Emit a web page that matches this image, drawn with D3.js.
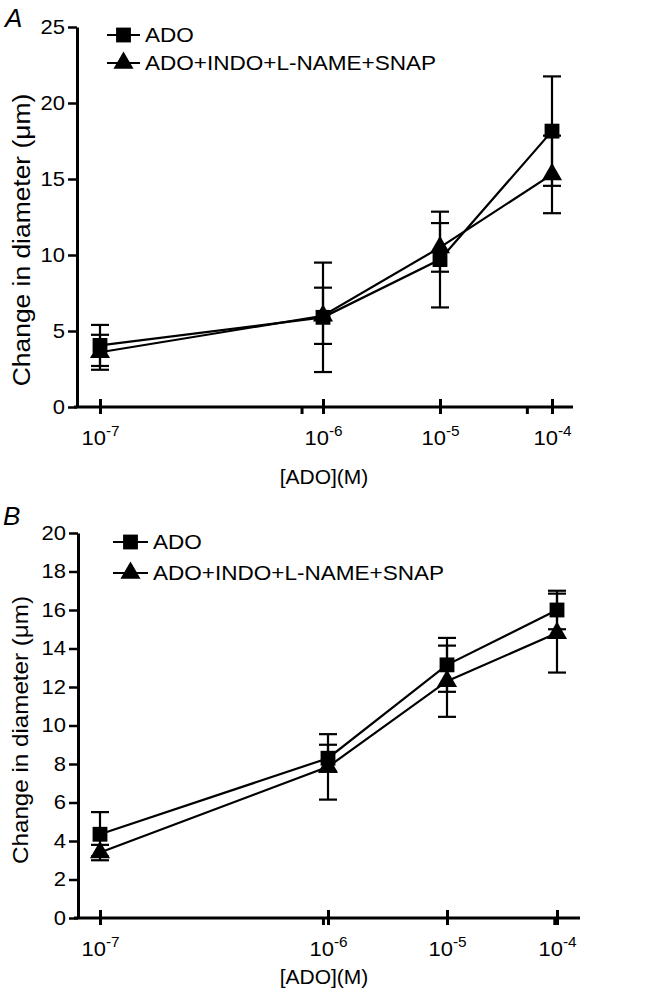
<!DOCTYPE html>
<html><head><meta charset="utf-8">
<script src="https://cdn.jsdelivr.net/npm/d3@7/dist/d3.min.js"></script>
<style>
body{margin:0;background:#fff}
svg{display:block}
text{font-family:"Liberation Sans",Arial,Helvetica,sans-serif;fill:#000}
</style>
</head><body>
<svg id="chart" width="661" height="992"></svg>
<script>
// ---------- data ----------
const concentrations = [1e-7, 1e-6, 1e-5, 1e-4];
const xTickExponents = ["-7", "-6", "-5", "-4"];
const seriesNames = ["ADO", "ADO+INDO+L-NAME+SNAP"];
const xTitle = "[ADO](M)";
const yTitle = "Change in diameter (\u03BCm)";

const yTicksA = [0, 5, 10, 15, 20, 25];
const adoA = [4.05, 5.9, 9.7, 18.15];
const adoErrA = [1.35, 3.6, 3.15, 3.6];
const comboA = [3.6, 6.0, 10.5, 15.3];
const comboErrA = [1.15, 1.85, 1.6, 2.55];
const minorTicksA = [-6.094, -4.22];

const yTicksB = [0, 2, 4, 6, 8, 10, 12, 14, 16, 18, 20];
const adoB = [4.35, 8.3, 13.15, 16.0];
const adoErrB = [1.15, 0.7, 1.4, 1.0];
const comboB = [3.4, 7.85, 12.3, 14.8];
const comboErrB = [0.4, 1.7, 1.85, 2.05];
const minorTicksB = [-6.02, -4.02];

// ---------- layout ----------
const SX = 1.1; // horizontal stretch of the lettering
const panels = [
  {letter:"A", letterX:5, letterY:27, yDomain:[0,25], yRange:[407,27], yTicks:yTicksA,
   xRange:[100,323,440,552], axisX:77, xStart:74, xEnd:573, xTitleX:324,
   series:[[adoA,adoErrA],[comboA,comboErrA]], minor:minorTicksA,
   legend:{x1:107,x2:140,tx:145,y0:35,dy:28,fs:20.5},
   yTitleX:30, yTitleY:240, yTitleFs:24, xTitleY:484, tickLabelDy:38},
  {letter:"B", letterX:3, letterY:525, yDomain:[0,20], yRange:[918,533], yTicks:yTicksB,
   xRange:[100,328,447,557], axisX:78, xStart:74, xEnd:580, xTitleX:324,
   series:[[adoB,adoErrB],[comboB,comboErrB]], minor:minorTicksB,
   legend:{x1:113,x2:148,tx:153,y0:542,dy:31,fs:20.5},
   yTitleX:28, yTitleY:730, yTitleFs:22, xTitleY:984, tickLabelDy:38}
];

const svg = d3.select("#chart");
const sym = [d3.symbol().type(d3.symbolSquare).size(220), d3.symbol().type(d3.symbolTriangle).size(175)];

function stext(g, str, x, y, fs, anchor, rot, sx) {
  return g.append("text")
    .attr("transform", `translate(${x},${y}) rotate(${rot||0}) scale(${sx||SX},1)`)
    .style("font-size", fs + "px")
    .attr("text-anchor", anchor || "start")
    .text(str);
}

panels.forEach(p => {
  const g = svg.append("g");
  const y = d3.scaleLinear().domain(p.yDomain).range(p.yRange);
  const x = d3.scaleLinear().domain([-7,-6,-5,-4]).range(p.xRange);
  const xv = c => x(Math.log10(c));

  // panel letter
  stext(g, p.letter, p.letterX, p.letterY, 26, "start", 0, 1).style("font-style","italic");

  // y axis
  const ya = g.append("g").attr("transform", `translate(${p.axisX},0)`)
    .call(d3.axisLeft(y).tickValues(p.yTicks).tickSize(9).tickSizeOuter(0).tickPadding(3));
  ya.attr("font-size", null).attr("font-family", null);
  ya.select(".domain").attr("stroke","#000").attr("stroke-width",3);
  ya.selectAll(".tick line").attr("stroke","#000").attr("stroke-width",2.5);
  ya.selectAll(".tick text").style("font-size","20px")
    .attr("x", -12/SX).attr("transform",`scale(${SX},1)`).attr("fill","#000");

  // x axis line
  const xBase = p.yRange[0];
  g.append("line").attr("x1",p.xStart).attr("x2",p.xEnd).attr("y1",xBase).attr("y2",xBase)
    .attr("stroke","#000").attr("stroke-width",3);
  const xa = g.append("g").attr("transform",`translate(0,${xBase})`)
    .call(d3.axisBottom(x).tickValues([-7,-6,-5,-4]).tickSize(0).tickFormat(""));
  xa.attr("font-size", null).attr("font-family", null);
  xa.select(".domain").remove();
  xa.selectAll(".tick text").remove();
  xa.selectAll(".tick line").attr("y1",-8).attr("y2",7).attr("stroke","#000").attr("stroke-width",3);
  xa.selectAll(".tick").each(function(d,i){
    const t = d3.select(this).append("text")
      .attr("transform",`translate(0,${p.tickLabelDy}) scale(${SX},1)`)
      .style("font-size","20px").attr("text-anchor","middle").attr("fill","#000");
    t.append("tspan").text("10");
    t.append("tspan").style("font-size","14px").attr("dy",-9).text(xTickExponents[i]);
  });
  // minor ticks
  g.selectAll(".minor").data(p.minor).join("line")
    .attr("x1",d=>x(d)).attr("x2",d=>x(d)).attr("y1",xBase).attr("y2",xBase+7)
    .attr("stroke","#000").attr("stroke-width",3);

  // axis titles
  stext(g, xTitle, p.xTitleX, p.xTitleY, 21, "middle", 0, 1.0);
  stext(g, yTitle, p.yTitleX, p.yTitleY, p.yTitleFs, "middle", -90);

  // lines
  const line = d3.line().x((d,i)=>xv(concentrations[i])).y(d=>y(d));
  p.series.forEach(([vals]) => {
    g.append("path").attr("d", line(vals)).attr("fill","none").attr("stroke","#000").attr("stroke-width",2.2);
  });
  // error bars
  p.series.forEach(([vals, errs]) => {
    vals.forEach((v,i) => {
      const cx = xv(concentrations[i]);
      const lo = y(v - errs[i]), hi = y(v + errs[i]);
      g.append("line").attr("x1",cx).attr("x2",cx).attr("y1",lo).attr("y2",hi).attr("stroke","#000").attr("stroke-width",2.2);
      [lo,hi].forEach(yy => g.append("line").attr("x1",cx-9).attr("x2",cx+9).attr("y1",yy).attr("y2",yy).attr("stroke","#000").attr("stroke-width",2.2));
    });
  });
  // markers
  p.series.forEach(([vals], si) => {
    g.selectAll(null).data(vals).join("path")
      .attr("transform",(d,i)=>`translate(${xv(concentrations[i])},${y(d)})`)
      .attr("d", sym[si]()).attr("fill","#000");
  });

  // legend
  const L = p.legend;
  seriesNames.forEach((name, si) => {
    const ly = L.y0 + si*L.dy;
    g.append("line").attr("x1",L.x1).attr("x2",L.x2).attr("y1",ly).attr("y2",ly).attr("stroke","#000").attr("stroke-width",2.2);
    g.append("path").attr("transform",`translate(${(L.x1+L.x2)/2},${ly})`).attr("d",sym[si]()).attr("fill","#000");
    stext(g, name, L.tx, ly + 7, L.fs, "start");
  });
});
</script>
</body></html>
